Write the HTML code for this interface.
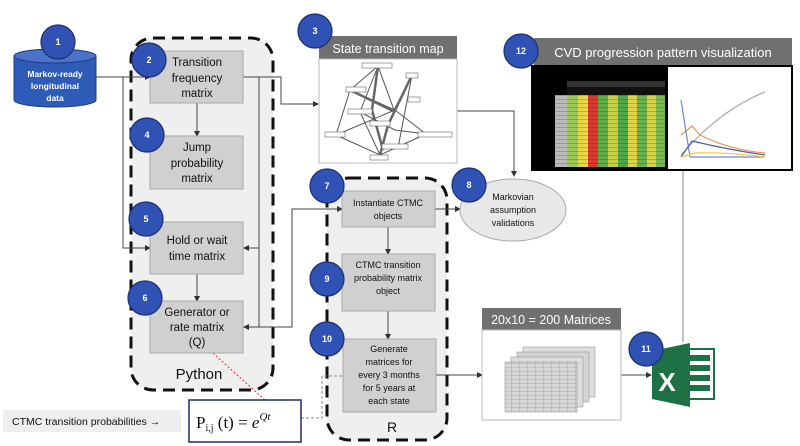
<!DOCTYPE html>
<html><head><meta charset="utf-8"><style>
body{margin:0;background:#fff}
svg{display:block;font-family:"Liberation Sans",sans-serif}
</style></head><body>
<svg width="800" height="446" viewBox="0 0 800 446" xmlns="http://www.w3.org/2000/svg">
<defs>
<marker id="a" markerWidth="6" markerHeight="6" refX="5" refY="3" orient="auto"><path d="M0,0L6,3L0,6z" fill="#333"/></marker>
<marker id="r" markerWidth="6" markerHeight="6" refX="5" refY="3" orient="auto"><path d="M0,0L6,3L0,6z" fill="#e22"/></marker>
<pattern id="rows" width="6" height="4" patternUnits="userSpaceOnUse"><rect width="6" height="4" fill="none"/><path d="M0,3.8H6" stroke="#000" stroke-width="0.4" opacity="0.5"/></pattern>
<pattern id="grid" width="8" height="4" patternUnits="userSpaceOnUse"><path d="M0,3.8H8M7.8,0V4" stroke="#999" stroke-width="0.4"/></pattern>
</defs>
<rect x="131" y="38" width="142" height="352" rx="22" fill="#efefef" stroke="#111" stroke-width="3" stroke-dasharray="12,7"/>
<rect x="327" y="178" width="120" height="262" rx="22" fill="#efefef" stroke="#111" stroke-width="3" stroke-dasharray="12,7"/>
<text x="199" y="379" font-size="15" text-anchor="middle" fill="#111">Python</text>
<text x="392" y="432" font-size="14" text-anchor="middle" fill="#111">R</text>
<g stroke="#444" stroke-width="1" fill="none">
<path d="M96,77H150" marker-end="url(#a)"/>
<path d="M123,77V248H150" marker-end="url(#a)"/>
<path d="M197,103V136" marker-end="url(#a)"/>
<path d="M197,274V301" marker-end="url(#a)"/>
<path d="M243,77H259V327H244" marker-end="url(#a)"/>
<path d="M259,248H244" marker-end="url(#a)"/>
<path d="M259,77H281V104H318" marker-end="url(#a)"/>
<path d="M259,327H292V209H342" marker-end="url(#a)"/>
<path d="M388,227V254" marker-end="url(#a)"/>
<path d="M388,311V339" marker-end="url(#a)"/>
<path d="M435,209H460" marker-end="url(#a)"/>
<path d="M457,111H514V176" marker-end="url(#a)"/>
<path d="M436,375H482" marker-end="url(#a)"/>
<path d="M621,375H651" marker-end="url(#a)"/>
<path d="M683,170V342" stroke="#888"/>
<path d="M301,418H322V376H343" stroke="#888" stroke-dasharray="3,2"/>
</g>
<path d="M204,345L276,410" stroke="#e22" stroke-width="1" stroke-dasharray="2,2" fill="none" marker-end="url(#r)"/>
<path d="M14,56V100A41,7 0 0 0 96,100V56" fill="#2e5ab8" stroke="#1d3a80"/>
<ellipse cx="55" cy="56" rx="41" ry="7" fill="#4a72c8" stroke="#1d3a80"/>
<g fill="#fff" font-size="8.5" font-weight="bold" text-anchor="middle"><text x="55" y="77">Markov-ready</text><text x="55" y="89">longitudinal</text><text x="55" y="101">data</text></g>
<g fill="#d0d0d0" stroke="#aaa">
<rect x="150" y="51" width="93" height="52"/><rect x="150" y="136" width="93" height="53"/>
<rect x="150" y="222" width="93" height="52"/><rect x="150" y="301" width="93" height="52"/>
<rect x="342" y="191" width="93" height="36"/><rect x="342" y="254" width="93" height="57"/>
<rect x="343" y="339" width="93" height="73"/>
</g>
<g fill="#111" font-size="11.5" text-anchor="middle">
<text x="197" y="66">Transition</text><text x="197" y="82">frequency</text><text x="197" y="97">matrix</text>
<text x="197" y="151">Jump</text><text x="197" y="167">probability</text><text x="197" y="182">matrix</text>
<text x="197" y="244">Hold or wait</text><text x="197" y="260">time matrix</text>
<text x="197" y="316">Generator or</text><text x="197" y="331">rate matrix</text><text x="197" y="346">(Q)</text>
</g>
<g fill="#111" font-size="9" text-anchor="middle">
<text x="388" y="206">Instantiate CTMC</text><text x="388" y="219">objects</text>
<text x="388" y="268">CTMC transition</text><text x="388" y="281">probability matrix</text><text x="388" y="294">object</text>
<text x="389" y="352">Generate</text><text x="389" y="365">matrices for</text><text x="389" y="378">every 3 months</text><text x="389" y="391">for 5 years at</text><text x="389" y="404">each state</text>
</g>
<rect x="319" y="36" width="138" height="23" fill="#707070"/>
<text x="388" y="53" fill="#fff" font-size="12.5" text-anchor="middle">State transition map</text>
<rect x="319" y="59" width="138" height="104" fill="#fff" stroke="#bbb"/>
<g stroke="#555" fill="none">
<path d="M378,66L350,90L336,135M378,66L394,110L412,75M350,90L395,110L426,134M360,112L380,155M336,135L395,110L412,75M360,112L395,130L426,134M412,75L398,148M336,135L380,155L426,134M378,66L360,112" stroke-width="1"/>
<path d="M378,66L372,110L383,150M412,75L388,125L380,155M350,90L395,112" stroke-width="2.5" stroke="#666"/>
</g>
<g fill="#fff" stroke="#666" stroke-width="0.6">
<rect x="362" y="63" width="30" height="5"/><rect x="406" y="73" width="12" height="5"/><rect x="346" y="87" width="20" height="5"/><rect x="408" y="97" width="12" height="5"/><rect x="348" y="109" width="24" height="5"/><rect x="370" y="121" width="20" height="5"/><rect x="325" y="132" width="20" height="5"/><rect x="418" y="132" width="34" height="5"/><rect x="382" y="144" width="26" height="5"/><rect x="370" y="155" width="18" height="5"/>
</g>
<ellipse cx="513" cy="210" rx="53" ry="31" fill="#e8e8e8" stroke="#aaa"/>
<g fill="#111" font-size="9" text-anchor="middle"><text x="513" y="200">Markovian</text><text x="513" y="213">assumption</text><text x="513" y="226">validations</text></g>
<rect x="534" y="38" width="258" height="27" fill="#707070"/>
<text x="663" y="57" fill="#fff" font-size="13" text-anchor="middle">CVD progression pattern visualization</text>
<rect x="532" y="66" width="260" height="104" fill="#000" stroke="#000" stroke-width="2"/>
<rect x="567" y="81" width="98" height="6" fill="#333"/>
<rect x="567" y="87" width="98" height="8" fill="#111"/>
<g>
<rect x="567" y="95" width="11" height="72" fill="#9cc85a"/><rect x="578" y="95" width="10" height="72" fill="#e6d84a"/><rect x="588" y="95" width="10" height="72" fill="#d83a30"/><rect x="598" y="95" width="10" height="72" fill="#5fae4a"/><rect x="608" y="95" width="10" height="72" fill="#c8d048"/><rect x="618" y="95" width="10" height="72" fill="#4ea848"/><rect x="628" y="95" width="9" height="72" fill="#e0d448"/><rect x="637" y="95" width="10" height="72" fill="#6ab04c"/><rect x="647" y="95" width="9" height="72" fill="#d6d04a"/><rect x="656" y="95" width="9" height="72" fill="#7cb850"/>
<rect x="555" y="95" width="12" height="72" fill="#bbb"/>
<rect x="555" y="95" width="110" height="72" fill="url(#rows)"/>
</g>
<rect x="668" y="67" width="123" height="102" fill="#fff"/>
<g fill="none" stroke-width="1.2">
<path d="M681,155Q720,110 765,92" stroke="#aaa"/>
<path d="M681,135L692,126L700,135Q730,150 765,153" stroke="#f0904a"/>
<path d="M681,100L690,157H765" stroke="#6c8cd8"/>
<path d="M681,157L692,141Q730,150 765,155" stroke="#4a5fa8"/>
<path d="M681,157L695,153Q730,152 765,157" stroke="#f0c840"/>
</g>
<rect x="482" y="308" width="139" height="22" fill="#707070"/>
<text x="551" y="324" fill="#fff" font-size="12.5" text-anchor="middle">20x10 = 200 Matrices</text>
<rect x="482" y="330" width="139" height="90" fill="#fff" stroke="#bbb"/>
<g stroke="#888" stroke-width="0.5">
<rect x="523" y="347" width="72" height="50" fill="#ddd"/><rect x="517" y="352" width="72" height="50" fill="#d4d4d4"/><rect x="511" y="357" width="72" height="50" fill="#ddd"/><rect x="505" y="362" width="72" height="50" fill="#d8d8d8"/>
<rect x="505" y="362" width="72" height="50" fill="url(#grid)" stroke="none"/>
</g>
<rect x="674" y="349" width="40" height="50" fill="#fff" stroke="#1e7145" stroke-width="2"/>
<g fill="#1e7145"><rect x="690" y="355" width="20" height="6"/><rect x="690" y="365" width="20" height="6"/><rect x="690" y="375" width="20" height="6"/><rect x="690" y="385" width="20" height="6"/></g>
<path d="M652,351L690,343V407L652,399z" fill="#1e7145"/>
<text x="667" y="391" fill="#fff" font-size="26" font-weight="bold" text-anchor="middle">X</text>
<rect x="3" y="410" width="178" height="22" fill="#eee"/>
<text x="12" y="425" font-size="10.5" fill="#111">CTMC transition probabilities →</text>
<rect x="189" y="400" width="112" height="42" fill="#fff" stroke="#1d2f5e" stroke-width="1.5"/>
<text x="196" y="428" font-family="Liberation Serif,serif" font-size="17" fill="#111">P<tspan font-size="10" dy="3">i,j</tspan><tspan dy="-3"> (t) = </tspan><tspan font-style="italic">e</tspan><tspan font-style="italic" font-size="11" dy="-8">Qt</tspan></text>
<g fill="#2f52b4" stroke="#1b2f70" stroke-width="1.2">
<circle cx="58" cy="42" r="17"/><circle cx="149" cy="60" r="17"/><circle cx="147" cy="135" r="17"/><circle cx="146" cy="219" r="17"/><circle cx="145" cy="298" r="17"/>
<circle cx="315" cy="31" r="17"/><circle cx="327" cy="186" r="17"/><circle cx="327" cy="279" r="17"/><circle cx="327" cy="339" r="17"/>
<circle cx="469" cy="185" r="17"/><circle cx="521" cy="51" r="17"/><circle cx="646" cy="349" r="17"/>
</g>
<g fill="#fff" font-size="9" font-weight="bold" text-anchor="middle">
<text x="58" y="45">1</text><text x="149" y="63">2</text><text x="147" y="138">4</text><text x="146" y="222">5</text><text x="145" y="301">6</text>
<text x="315" y="34">3</text><text x="327" y="189">7</text><text x="327" y="282">9</text><text x="327" y="342">10</text>
<text x="469" y="188">8</text><text x="521" y="54">12</text><text x="646" y="352">11</text>
</g>
</svg>
</body></html>
